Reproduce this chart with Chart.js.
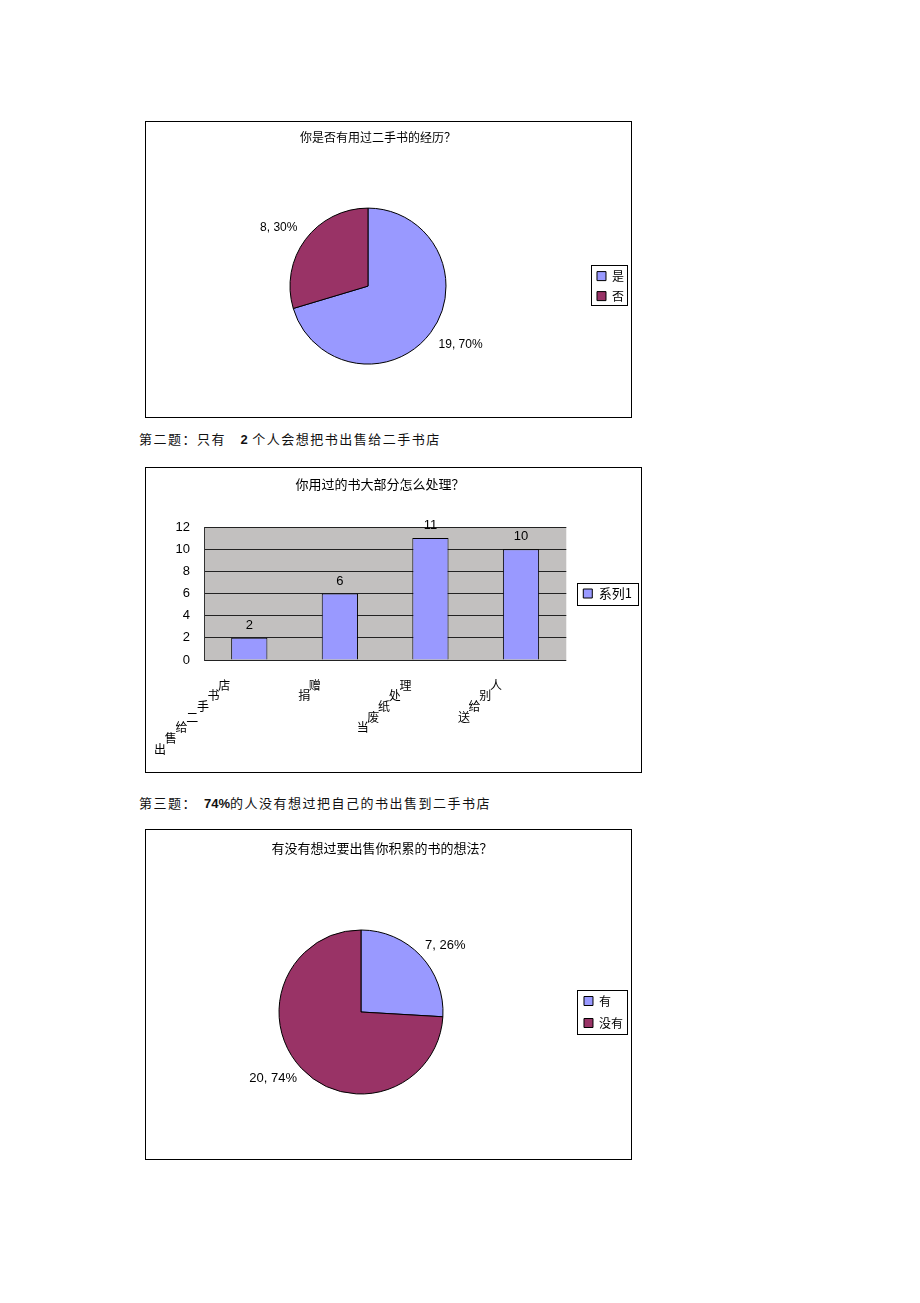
<!DOCTYPE html>
<html>
<head>
<meta charset="utf-8">
<script src="https://cdn.jsdelivr.net/npm/chart.js@4.4.0/dist/chart.umd.min.js"></script>
<style>
  body { margin: 0; background: #fff; }
  #page { position: relative; width: 920px; height: 1303px; overflow: hidden; }
  .box { position: absolute; border: 1px solid #000; }
  .box canvas { position: absolute; left: -30px; top: 0; }
  .note { position: absolute; left: 139px; font: 13px/16px 'Noto Sans CJK SC', sans-serif; letter-spacing: 1.5px; color: #111; white-space: pre; }
  .note b { font-family: 'Liberation Sans', Arial, sans-serif; letter-spacing: 0; }
</style>
</head>
<body>
<div id="page">
  <div class="box" style="left:145px;top:121px;width:485px;height:295px"><canvas id="pie1" width="518" height="295"></canvas></div>
  <div class="note" style="top:431px">第二题：只有　<b>2</b> 个人会想把书出售给二手书店</div>
  <div class="box" style="left:145px;top:467px;width:495px;height:304px"><canvas id="bar2" width="526" height="304"></canvas></div>
  <div class="note" style="top:795px">第三题：<b style="margin-left:7px">74%</b>的人没有想过把自己的书出售到二手书店</div>
  <div class="box" style="left:145px;top:829px;width:485px;height:329px"><canvas id="pie3" width="517" height="329"></canvas></div>
</div>
<script>
// survey data
const q1Title = '你是否有用过二手书的经历？';
const q1Labels = ['是', '否'];
const q1Values = [19, 8];

const q2Title = '你用过的书大部分怎么处理？';
const q2Labels = ['出售给二手书店', '捐赠', '当废纸处理', '送给别人'];
const q2Values = [2, 6, 11, 10];
const q2Series = '系列1';
const q2Max = 12;
const q2Step = 2;

const q3Title = '有没有想过要出售你积累的书的想法？';
const q3Labels = ['有', '没有'];
const q3Values = [7, 20];

const sliceColors = ['#9999FF', '#993366'];
const cjk = "'Noto Sans CJK SC', sans-serif";
const latin = "'Liberation Sans', Arial, sans-serif";

Chart.defaults.font.family = cjk;
Chart.defaults.color = '#000';

// box drawn round the legend items
const legendFrame = {
  id: 'legendFrame',
  afterDraw(chart, args, opts) {
    const boxes = chart.legend && chart.legend.legendHitBoxes;
    if (!boxes || !boxes.length) return;
    const m = opts.margin;
    let l = Infinity, r = -Infinity;
    boxes.forEach(b => {
      l = Math.min(l, b.left);
      r = Math.max(r, b.left + b.width);
    });
    const t = boxes[0].top;
    const last = boxes[boxes.length - 1];
    const b = last.top + last.height;
    const ctx = chart.ctx;
    ctx.save();
    ctx.strokeStyle = '#000';
    ctx.lineWidth = 1;
    ctx.strokeRect(Math.round(l - m[3]) + 0.5, Math.round(t - m[0]) + 0.5,
      Math.round(r - l + m[1] + m[3]), Math.round(b - t + m[0] + m[2]));
    ctx.restore();
  }
};

// "value, percent" outside each slice
const pieLabels = {
  id: 'pieLabels',
  afterDatasetsDraw(chart, args, opts) {
    const meta = chart.getDatasetMeta(0);
    const values = chart.data.datasets[0].data;
    const total = values.reduce((a, v) => a + v, 0);
    const ctx = chart.ctx;
    ctx.save();
    ctx.font = opts.font;
    ctx.fillStyle = '#000';
    ctx.textBaseline = 'middle';
    meta.data.forEach((arc, i) => {
      const p = arc.getProps(['x', 'y', 'startAngle', 'endAngle', 'outerRadius'], true);
      const mid = (p.startAngle + p.endAngle) / 2;
      const d = p.outerRadius + opts.offset;
      const cx = Math.cos(mid), cy = Math.sin(mid);
      const x = p.x + cx * d;
      const y = p.y + cy * d + (cy < 0 ? -6 : 6);
      ctx.textAlign = cx >= 0 ? 'left' : 'right';
      ctx.fillText(values[i] + ', ' + Math.round(values[i] / total * 100) + '%', x, y);
    });
    ctx.restore();
  }
};

const plotBackground = {
  id: 'plotBackground',
  beforeDraw(chart) {
    const a = chart.chartArea, ctx = chart.ctx;
    ctx.save();
    ctx.fillStyle = '#c2c0bf';
    ctx.fillRect(a.left, a.top, a.right - a.left, a.bottom - a.top);
    ctx.restore();
  }
};

const barValues = {
  id: 'barValues',
  afterDatasetsDraw(chart) {
    const meta = chart.getDatasetMeta(0);
    const vals = chart.data.datasets[0].data;
    const ctx = chart.ctx;
    ctx.save();
    ctx.font = '13px ' + latin;
    ctx.fillStyle = '#000';
    ctx.textAlign = 'center';
    ctx.textBaseline = 'bottom';
    meta.data.forEach((bar, i) => ctx.fillText(String(vals[i]), bar.x, bar.y - 6));
    ctx.restore();
  }
};

// category names as upright characters stepped along a diagonal
const stairLabels = {
  id: 'stairLabels',
  afterDraw(chart) {
    const xs = chart.scales.x, a = chart.chartArea, ctx = chart.ctx;
    const step = 10.7;
    ctx.save();
    ctx.font = '12px ' + cjk;
    ctx.fillStyle = '#000';
    ctx.textAlign = 'center';
    ctx.textBaseline = 'middle';
    chart.data.labels.forEach((label, i) => {
      const chars = Array.from(label);
      const x0 = xs.getPixelForValue(i) - 25;
      const y0 = a.bottom + 25;
      chars.forEach((ch, k) => {
        const back = chars.length - 1 - k;
        ctx.fillText(ch, x0 - back * step, y0 + back * step);
      });
    });
    ctx.restore();
  }
};

function pieChart(id, title, labels, values, cfg) {
  return new Chart(document.getElementById(id), {
    type: 'pie',
    data: {
      labels: labels,
      datasets: [{
        data: values,
        backgroundColor: sliceColors,
        borderColor: '#000',
        borderWidth: 1,
        radius: cfg.radius,
        clip: false
      }]
    },
    options: {
      responsive: false,
      animation: false,
      layout: { padding: cfg.padding },
      // empty left axis: only reserves room so the pie sits left of the title centre
      scales: {
        spacer: {
          type: 'linear',
          axis: 'y',
          position: 'left',
          ticks: { display: false },
          grid: { display: false, drawTicks: false },
          border: { display: false },
          afterFit: function(scale) { scale.width = cfg.spacer; }
        }
      },
      plugins: {
        title: {
          display: true,
          text: title,
          color: '#000',
          font: { size: cfg.titleSize, family: cjk, weight: 'normal' },
          padding: cfg.titlePadding
        },
        legend: {
          position: 'right',
          fullSize: false,
          labels: {
            boxWidth: 9,
            boxHeight: 9,
            padding: cfg.legendGap,
            color: '#000',
            font: { size: 12, family: cjk }
          }
        },
        tooltip: { enabled: false },
        pieLabels: { font: cfg.labelFont, offset: cfg.labelOffset },
        legendFrame: { margin: cfg.frame }
      }
    },
    plugins: [pieLabels, legendFrame]
  });
}

pieChart('pie1', q1Title, q1Labels, q1Values, {
  radius: 78,
  spacer: 25,
  padding: { left: 6, right: 0, top: 0, bottom: 0 },
  titleSize: 12,
  titlePadding: { top: 7.8, bottom: 11 },
  legendGap: 8,
  labelFont: '12px ' + latin,
  labelOffset: 10,
  frame: [5, 3, 3, 6]
});

new Chart(document.getElementById('bar2'), {
  type: 'bar',
  data: {
    labels: q2Labels,
    datasets: [{
      label: q2Series,
      data: q2Values,
      backgroundColor: '#9999FF',
      borderColor: '#000',
      borderWidth: 1,
      categoryPercentage: 0.8,
      barPercentage: 0.5
    }]
  },
  options: {
    responsive: false,
    animation: false,
    layout: { padding: { left: 2, right: 0, top: 0, bottom: 112 } },
    scales: {
      x: { display: false },
      y: {
        min: 0,
        max: q2Max,
        ticks: { stepSize: q2Step, padding: 14, color: '#000', font: { size: 13, family: latin } },
        grid: { color: '#222', drawTicks: false },
        border: { display: true, color: '#333' },
        afterFit: function(scale) { scale.width = 86; }
      }
    },
    plugins: {
      title: {
        display: true,
        text: q2Title,
        color: '#000',
        font: { size: 13, family: cjk, weight: 'normal' },
        padding: { top: 8.2, bottom: 35.2 }
      },
      legend: {
        position: 'right',
        fullSize: false,
        labels: {
          boxWidth: 9,
          boxHeight: 9,
          padding: 17,
          color: '#000',
          font: { size: 13, family: cjk }
        }
      },
      tooltip: { enabled: false },
      legendFrame: { margin: [4.5, 6, 4.5, 6] }
    }
  },
  plugins: [plotBackground, barValues, stairLabels, legendFrame]
});

pieChart('pie3', q3Title, q3Labels, q3Values, {
  radius: 82,
  spacer: 17,
  padding: { left: 15, right: 0, top: 0, bottom: 0 },
  titleSize: 13,
  titlePadding: { top: 10.2, bottom: 9.2 },
  legendGap: 10,
  labelFont: '13px ' + latin,
  labelOffset: 6,
  frame: [5, 4, 5, 7]
});
</script>
</body>
</html>
